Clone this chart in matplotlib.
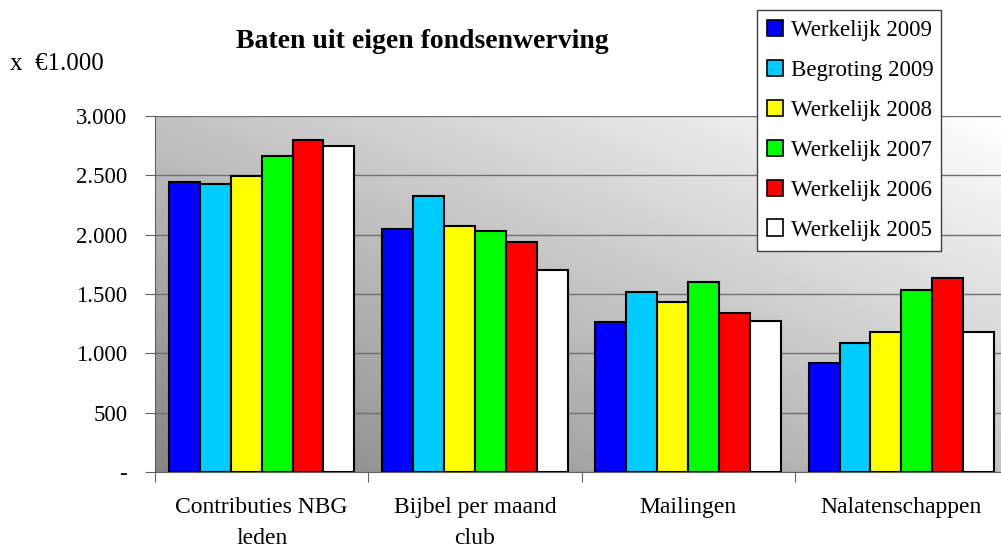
import numpy as np
import matplotlib
matplotlib.use("Agg")
import matplotlib.pyplot as plt
from matplotlib.ticker import FixedLocator, FuncFormatter

categories = ["Contributies NBG\nleden", "Bijbel per maand\nclub", "Mailingen", "Nalatenschappen"]
series_names = ["Werkelijk 2009", "Begroting 2009", "Werkelijk 2008",
                "Werkelijk 2007", "Werkelijk 2006", "Werkelijk 2005"]
werkelijk_2009 = [2445, 2050, 1262, 921]
begroting_2009 = [2426, 2325, 1513, 1090]
werkelijk_2008 = [2494, 2070, 1429, 1178]
werkelijk_2007 = [2660, 2035, 1598, 1530]
werkelijk_2006 = [2798, 1940, 1344, 1631]
werkelijk_2005 = [2747, 1700, 1276, 1178]
series_values = [werkelijk_2009, begroting_2009, werkelijk_2008,
                 werkelijk_2007, werkelijk_2006, werkelijk_2005]
colors = ["#0000FF", "#00CCFF", "#FFFF00", "#00FF00", "#FF0000", "#FFFFFF"]
yticks = [0, 500, 1000, 1500, 2000, 2500, 3000]

plt.rcParams['font.family'] = ['Liberation Serif', 'DejaVu Serif']

W, H = 1001, 549
fig = plt.figure(figsize=(W / 100, H / 100), dpi=100)
left, right, top, bottom = 155, 1001, 116, 472
ax = fig.add_axes([left / W, (H - bottom) / H, (right - left) / W, (bottom - top) / H])

# gradient background
ny, nx = 200, 200
xx, yy = np.meshgrid(np.linspace(0, 1, nx), np.linspace(0, 1, ny))
grad = 0.52 + 0.24 * xx + 0.24 * yy
ax.imshow(grad, cmap="gray", vmin=0, vmax=1, extent=[0, 1, 0, 1], origin="lower",
          transform=ax.transAxes, aspect="auto", zorder=0, interpolation="bilinear")

n = len(series_values)
bw = 0.145
x = np.arange(len(categories))
for i, (vals, c, name) in enumerate(zip(series_values, colors, series_names)):
    offs = (i - (n - 1) / 2) * bw
    ax.bar(x + offs, vals, bw, color=c, edgecolor="black", linewidth=1.5, label=name, zorder=3)

ax.set_xlim(-0.5, 3.5 - 7 / 213)
ax.set_ylim(0, 3000)
ax.yaxis.set_major_locator(FixedLocator(yticks))
ax.yaxis.set_major_formatter(FuncFormatter(lambda v, p: "-" if v == 0 else f"{int(v):,}".replace(",", ".")))
ax.grid(axis="y", color="#707070", linewidth=1.0, zorder=1)
ax.set_axisbelow(True)

ax.set_xticks([-0.5, 0.5, 1.5, 2.5])
ax.set_xticklabels([])
ax.set_xticks(x, minor=True)
ax.set_xticklabels(categories, minor=True, fontsize=17, linespacing=1.65)
ax.tick_params(axis="x", which="minor", length=0, pad=18)
ax.tick_params(axis="x", which="major", length=7, color="#606060", direction="out")
ax.tick_params(axis="y", length=7, color="#606060", labelsize=16.5, pad=13)
for s in ["top", "right"]:
    ax.spines[s].set_visible(False)
ax.spines["left"].set_color("#606060")
ax.spines["bottom"].set_color("#606060")

fig.text(422 / W, 1 - 42 / H, "Baten uit eigen fondsenwerving", ha="center", va="center",
         fontsize=20, fontweight="bold")
fig.text(10 / W, 1 - 64 / H, "x  €1.000", ha="left", va="center", fontsize=18)

leg = ax.legend(loc="upper left", bbox_to_anchor=(757 / W, 1 - 250 / H, (941 - 757) / W, (250 - 10) / H),
                bbox_transform=fig.transFigure, mode="expand", fontsize=16.5, frameon=True,
                fancybox=False, edgecolor="#404040", framealpha=1, handlelength=0.7,
                handleheight=0.7, handletextpad=0.35, labelspacing=0.82, borderpad=0.45,
                borderaxespad=0)
leg.get_frame().set_linewidth(1.0)
for h in leg.legend_handles:
    h.set_linewidth(1.2)

fig.savefig("out.png", dpi=100)
